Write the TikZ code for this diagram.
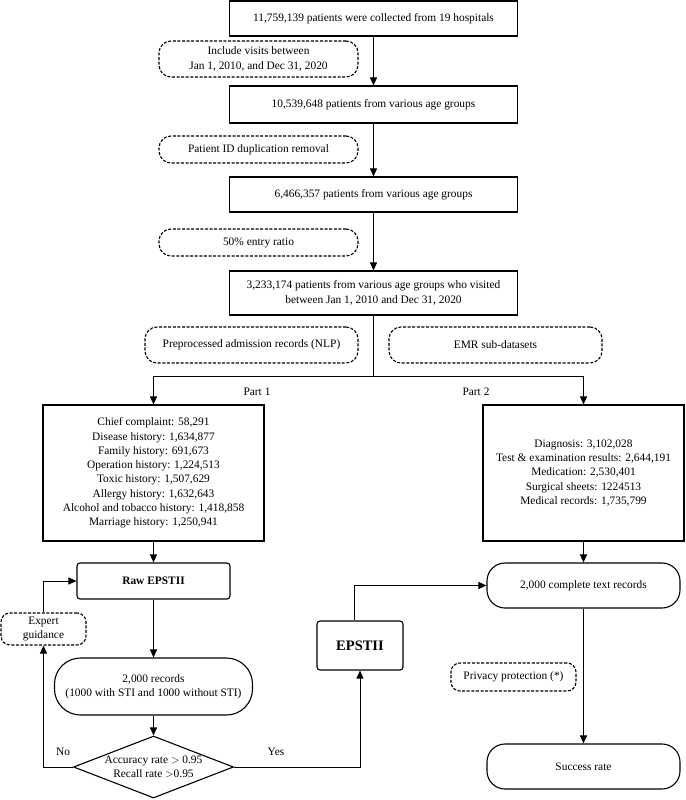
\documentclass[tikz,border=0pt]{standalone}
\usepackage{fontspec}
\setmainfont{Liberation Serif}
\usetikzlibrary{arrows.meta,shapes.geometric}
\begin{document}
\begin{tikzpicture}[x=1pt,y=-1pt,
  font=\fontsize{11.4}{14.3}\selectfont,
  box/.style={draw,line width=1.1pt,rectangle,align=center,inner sep=2pt},
  dbox/.style={draw,line width=1.1pt,dash pattern=on 3pt off 1.6pt,rounded corners=12pt,align=center,inner sep=2pt},
  rbox/.style={draw,line width=1.1pt,rounded corners=18pt,align=center,inner sep=2pt},
  arr/.style={line width=0.9pt,-{Triangle[length=8pt,width=7pt]}},
  lbl/.style={inner sep=0pt}]
\useasboundingbox (0,0) rectangle (685,800);
% main column
\node[box,minimum width=288,minimum height=35] (b1) at (373.5,18.5) {11,759,139 patients were collected from 19 hospitals};
\node[dbox,minimum width=199,minimum height=36] (d1) at (258.5,59) {Include visits between\\Jan 1, 2010, and Dec 31, 2020};
\node[box,minimum width=288,minimum height=37] (b2) at (373.5,104.5) {10,539,648 patients from various age groups};
\node[dbox,minimum width=199,minimum height=27] (d2) at (258.5,149.5) {Patient ID duplication removal};
\node[box,minimum width=288,minimum height=35] (b3) at (373.5,194.5) {6,466,357 patients from various age groups};
\node[dbox,minimum width=199,minimum height=27] (d3) at (258.5,242.5) {50\% entry ratio};
\node[box,minimum width=288,minimum height=44] (b4) at (373.5,293) {3,233,174 patients from various age groups who visited\\between Jan 1, 2010 and Dec 31, 2020};
\node[dbox,minimum width=213,minimum height=36] (d4) at (251.5,345) {Preprocessed admission records (NLP)};
\node[dbox,minimum width=213,minimum height=36] (d5) at (495.5,345) {EMR sub-datasets};
\coordinate (split) at (373.5,376);
\node[lbl] (p1) at (257,392) {Part 1};
\node[lbl] (p2) at (476,392) {Part 2};
% left branch
\node[box,minimum width=221,minimum height=136] (lb) at (153.5,473) {Chief complaint: 58,291\\Disease history: 1,634,877\\Family history: 691,673\\Operation history: 1,224,513\\Toxic history: 1,507,629\\Allergy history: 1,632,643\\Alcohol and tobacco history: 1,418,858\\Marriage history: 1,250,941};
\node[box,rounded corners=3pt,minimum width=153,minimum height=36,font=\fontsize{11.4}{14.3}\selectfont\bfseries] (raw) at (153.5,581) {Raw EPSTII};
\node[dbox,rounded corners=9pt,minimum width=85,minimum height=32] (exp) at (43.5,629) {Expert\\guidance};
\node[rbox,rounded corners=26pt,minimum width=198,minimum height=57] (rec) at (153.5,686.5) {2,000 records\\(1000 with STI and 1000 without STI)};
\node[draw,line width=1.1pt,diamond,aspect=2.58,minimum width=160,minimum height=62,inner sep=0pt,align=center] (dia) at (153.5,767) {Accuracy rate $>$ 0.95\\Recall rate $>$0.95};
\node[lbl] (no) at (63,752) {No};
\node[lbl] (yes) at (276,752) {Yes};
\node[box,rounded corners=3pt,minimum width=86,minimum height=49,font=\fontsize{14.5}{17}\selectfont\bfseries] (eps) at (360,645.5) {EPSTII};
% right branch
\node[box,minimum width=201,minimum height=136] (rb) at (583.5,473) {Diagnosis: 3,102,028\\Test \& examination results: 2,644,191\\Medication: 2,530,401\\Surgical sheets: 1224513\\Medical records: 1,735,799};
\node[rbox,minimum width=193,minimum height=45] (comp) at (583.5,585.5) {2,000 complete text records};
\node[dbox,rounded corners=9pt,minimum width=125,minimum height=28] (priv) at (513.5,677) {Privacy protection (*)};
\node[rbox,minimum width=193,minimum height=45] (succ) at (583.5,766.5) {Success rate};
% connectors
\draw[arr] (b1) -- (b2);
\draw[arr] (b2) -- (b3);
\draw[arr] (b3) -- (b4);
\draw[line width=0.9pt] (b4.south) -- (split);
\draw[arr] (split) -| (lb.north);
\draw[arr] (split) -| (rb.north);
\draw[arr] (lb) -- (raw);
\draw[arr] (raw) -- (rec);
\draw[arr] (rec) -- (dia);
\draw[arr] (dia.west) -| (exp.south);
\draw[arr] (exp.north) |- (raw.west);
\draw[arr] (dia.east) -| (eps.south);
\draw[arr] ([xshift=-6pt]eps.north) |- (comp.west);
\draw[arr] (rb.south) -- (comp.north);
\draw[arr] (comp) -- (succ);
\end{tikzpicture}
\end{document}
